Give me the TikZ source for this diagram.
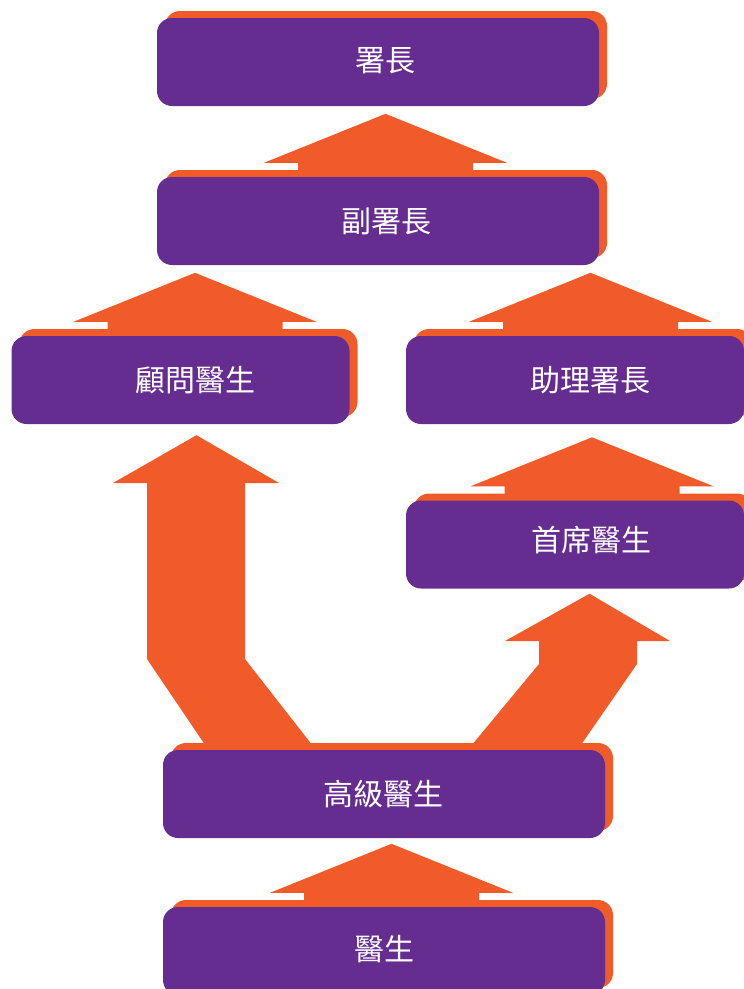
\documentclass[tikz,border=0pt]{standalone}
\usepackage{fontspec}
\newfontfamily\cjk{Noto Sans CJK TC}
\usepackage{tikz}
\usetikzlibrary{positioning,calc,shadows,backgrounds}

\definecolor{rankpurple}{HTML}{652D90}
\definecolor{rankorange}{HTML}{F15A29}

% block arrow going up from the top of a box
\newcommand{\blockup}[2]{%
  \fill[rankorange, shift={($(#1.north)+(#2,0)$)}]
    (-87.5,0) -- (-87.5,14) -- (-121.5,14) -- (0,63) -- (121.5,14)
    -- (87.5,14) -- (87.5,0) -- cycle;
}

\begin{document}
\begin{tikzpicture}[x=1pt, y=1pt, on grid,
    rank/.style={rectangle, rounded corners=15pt, fill=rankpurple, inner sep=0pt,
      minimum height=88pt,
      drop shadow={shadow xshift=8pt, shadow yshift=7pt, opacity=1, fill=rankorange}},
    wide/.style={rank, minimum width=442pt},
    narrow/.style={rank, minimum width=338pt},
    title/.style={text=white, font=\cjk\fontsize{30}{30}\selectfont}]

    \useasboundingbox (0,0) rectangle (744,-989);

    \node[wide, label={[title,xshift=7pt,yshift=1pt]center:署長}] (director) at (378,-62) {};
    \node[wide, label={[title,xshift=8pt]center:副署長}] (deputy) [below=159pt of director] {};
    \node[narrow, label={[title,xshift=15pt]center:顧問醫生}] (consultant) at (180.5,-380) {};
    \node[narrow, label={[title,xshift=15pt]center:助理署長}] (assistant) at (575,-380) {};
    \node[narrow, label={[title,xshift=16pt,yshift=4pt]center:首席醫生}] (chief) [below=164.5pt of assistant] {};
    \node[wide, label={[title,xshift=-1pt]center:高級醫生}] (senior) at (384,-794) {};
    \node[wide, label={[title,yshift=2pt]center:醫生}] (doctor) [below=157pt of senior] {};

    \begin{scope}[on background layer]
        \blockup{deputy}{7.5}
        \blockup{consultant}{14.5}
        \blockup{assistant}{15.5}
        \blockup{chief}{17}
        \blockup{doctor}{7.5}

        \fill[rankorange] ($(senior.north)+(-179,5)$) -- (147,-659) -- (147,-483)
            -- (113,-483) -- ($(consultant.south)+(16,-11)$) -- (279,-483)
            -- (245,-483) -- (245,-659) -- ($(senior.north)+(-72,5)$) -- cycle;
        \fill[rankorange] ($(senior.north)+(88,5)$) -- (539,-664) -- (539,-641)
            -- (505,-641) -- ($(chief.south)+(14.5,-5)$) -- (670,-641)
            -- (637,-641) -- (637,-664) -- ($(senior.north)+(197,5)$) -- cycle;
    \end{scope}

\end{tikzpicture}
\end{document}
